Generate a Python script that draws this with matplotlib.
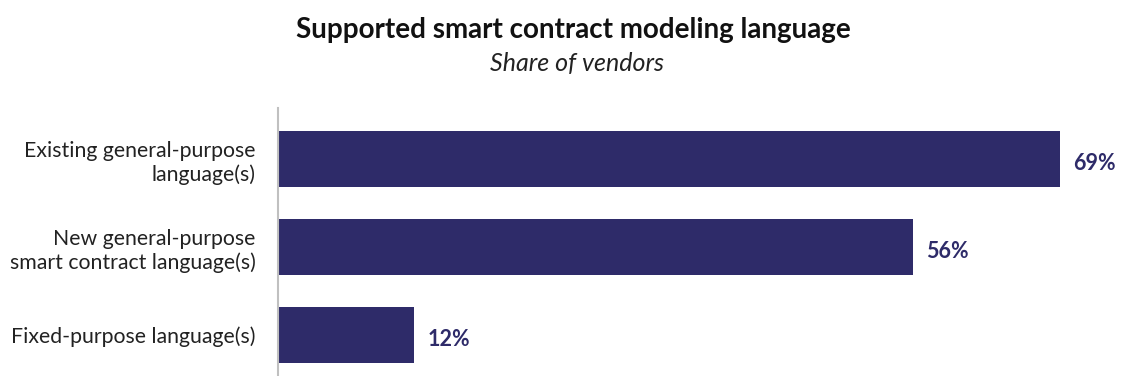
import matplotlib
matplotlib.use("Agg")
import matplotlib.pyplot as plt

categories = ["Existing general-purpose\nlanguage(s)",
              "New general-purpose\nsmart contract language(s)",
              "Fixed-purpose language(s)"]
shares = [69, 56, 12]

BAR = "#2e2b69"

plt.rcParams["font.family"] = ["Lato", "DejaVu Sans"]

fig = plt.figure(figsize=(11.28, 3.76), dpi=100)
ax = fig.add_axes([278 / 1128, 0, 850 / 1128, (376 - 108) / 376])

y = list(range(len(categories)))
ax.barh(y, shares, height=0.636, color=BAR)
ax.set_xlim(0, 75)
ax.set_ylim(2.466, -0.58)

for yi, v in zip(y, shares):
    ax.text(v + 1.2, yi + 0.05, f"{v}%", va="center", ha="left",
            fontsize=15.5, fontweight="bold", color=BAR)

ax.set_yticks(y)
ax.set_yticklabels(categories, fontsize=15.3, color="#222222", linespacing=1.25)
ax.tick_params(axis="y", length=0, pad=16)
ax.set_xticks([])
for s in ["top", "right", "bottom"]:
    ax.spines[s].set_visible(False)
ax.spines["left"].set_color("#c0c0c0")
ax.spines["left"].set_linewidth(1.5)

fig.text(573 / 1128, 1 - 30 / 376, "Supported smart contract modeling language",
         ha="center", va="center", fontsize=20, fontweight="bold", color="#111111")
fig.text(577 / 1128, 1 - 63 / 376, "Share of vendors",
         ha="center", va="center", fontsize=18, style="italic", color="#222222")

fig.savefig("out.png", dpi=100, facecolor="white")
